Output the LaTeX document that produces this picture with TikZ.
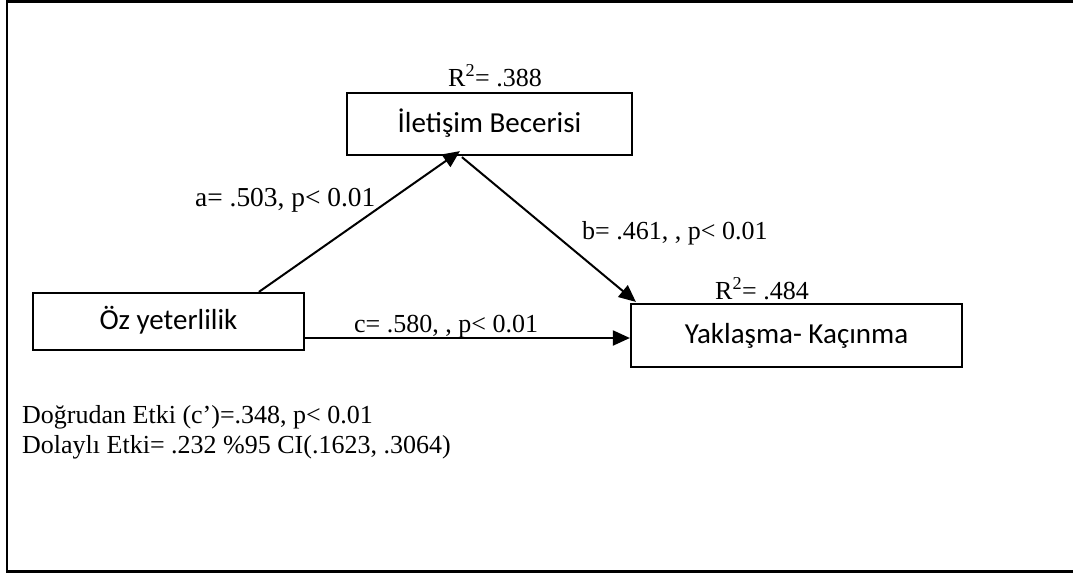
\documentclass[tikz,border=0pt]{standalone}
\usepackage{fontspec}
\setmainfont{Liberation Serif}
\newfontfamily\boxfont{Carlito}
\usetikzlibrary{arrows.meta,calc}
\begin{document}
\begin{tikzpicture}[x=1pt,y=-1pt,
  varbox/.style={draw, line width=2.2pt, rectangle, inner sep=0pt,
    font=\boxfont\fontsize{29}{34}\selectfont,
    text height=20pt, text depth=4pt},
  coef/.style={anchor=base west, inner sep=0pt,
    font=\fontsize{26}{30}\selectfont},
  link/.style={line width=2pt, -{Triangle[length=17pt,width=15pt]}}]
\useasboundingbox (0,0) rectangle (1073,574);

% open frame: top, left and bottom edges
\draw[line width=2.6pt] (1073,1.5) -- (7,1.5) -- (7,571.5) -- (1073,571.5);

% variables
\node[varbox, minimum width=285pt, minimum height=62pt] (med) at (489.5,124) {İletişim Becerisi};
\node[varbox, minimum width=271pt, minimum height=57pt] (pred) at (168.5,321.5) {Öz yeterlilik};
\node[varbox, minimum width=331pt, minimum height=63pt] (out) at (796.5,335.5) {Yaklaşma- Kaçınma};

% explained variance
\node[coef] (r2med) at (448,86) {R\textsuperscript{2}= .388};
\node[coef] (r2out) at (715,299) {R\textsuperscript{2}= .484};

% paths a, b and c
\draw[link] ($(pred.north west)+(227,0)$) -- ($(med.south west)+(114,-5)$);
\draw[link] ($(med.south west)+(116,1)$) -- ($(out.north west)+(6,-1)$);
\draw[link] (pred.east |- 0,338) -- (out.west |- 0,338);

% path coefficients
\node[coef, font=\fontsize{27.4}{31}\selectfont] (la) at (195,206) {a= .503, p< 0.01};
\node[coef] (lb) at (582,239) {b= .461, , p< 0.01};
\node[coef] (lc) at (354,332) {c= .580, , p< 0.01};

% effects
\node[coef] (direct) at (22,423) {Doğrudan Etki (c’)=.348, p< 0.01};
\node[coef] (indirect) at (22,453) {Dolaylı Etki= .232 \%95 CI(.1623, .3064)};
\end{tikzpicture}
\end{document}
